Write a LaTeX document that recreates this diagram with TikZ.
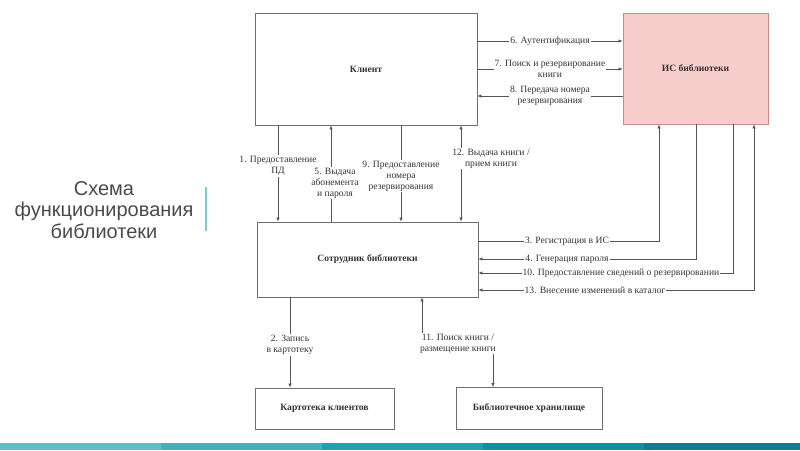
\documentclass[tikz,border=0pt]{standalone}
\usepackage{fontspec}
\setmainfont{Liberation Serif}
\newfontfamily\headfont{Liberation Sans}
\usetikzlibrary{arrows.meta}
\definecolor{isfill}{HTML}{F8CECC}
\definecolor{isdraw}{HTML}{C98A88}
\definecolor{boxgray}{HTML}{6E6E6E}
\definecolor{linegray}{HTML}{555555}
\definecolor{textgray}{HTML}{333333}
\definecolor{headgray}{HTML}{4A4A4A}
\definecolor{barteal}{HTML}{7CCBD0}
\definecolor{stripa}{HTML}{5CC0C2}
\definecolor{stripb}{HTML}{45AFBA}
\definecolor{stripc}{HTML}{249EB4}
\definecolor{stripd}{HTML}{128DAA}
\definecolor{stripe}{HTML}{14789C}
\tikzset{
  box/.style={shape=rectangle,draw=boxgray,line width=0.8pt,text=textgray,
    font=\fontsize{9.6}{11}\selectfont\bfseries},
  lbl/.style={fill=white,inner sep=1pt,align=center,text=textgray,
    font=\fontsize{9.6}{11}\selectfont},
  link/.style={draw=linegray,line width=0.7pt},
  tip/.style={link,-{Latex[length=4pt,width=3.5pt]}},
  twotip/.style={link,{Latex[length=4pt,width=3.5pt]}-{Latex[length=4pt,width=3.5pt]}}
}
\begin{document}
\begin{tikzpicture}[x=1pt,y=-1pt]
\useasboundingbox (0,0) rectangle (800,450);

\node[headgray,align=center,font=\headfont\fontsize{20}{21.5}\selectfont](head) at (104,210) {Схема\\функционирования\\библиотеки};
\draw[barteal,line width=2.5pt] (206,187) -- (206,231);

\node[box,minimum width=222pt,minimum height=112pt](client) at (366,69) {Клиент};
\node[box,draw=isdraw,fill=isfill,minimum width=145pt,minimum height=111pt](ibs) at (695.5,68.5) {ИС библиотеки};
\node[box,minimum width=221pt,minimum height=75pt](staff) at (367.5,259.5) {Сотрудник библиотеки};
\node[box,minimum width=139pt,minimum height=41pt](cards) at (324.5,408.5) {Картотека клиентов};
\node[box,minimum width=146pt,minimum height=42pt](store) at (529,408.5) {Библиотечное хранилище};

% client - IS
\draw[tip] (client.east |- 0,41) -- (ibs.west |- 0,41);
\draw[tip] (client.east |- 0,69) -- (ibs.west |- 0,69);
\draw[tip] (ibs.west |- 0,96) -- (client.east |- 0,96);
\node[lbl](l6) at (550,41) {6. Аутентификация};
\node[lbl](l7) at (550,69) {7. Поиск и резервирование\\книги};
\node[lbl](l8) at (550,95.5) {8. Передача номера\\резервирования};

% client - staff
\draw[tip] (client.south -| 278,0) -- (staff.north -| 278,0);
\draw[tip] (staff.north -| 331,0) -- (client.south -| 331,0);
\draw[tip] (client.south -| 401,0) -- (staff.north -| 401,0);
\draw[twotip] (client.south -| 461,0) -- (staff.north -| 461,0);
\node[lbl](l12) at (491,158.5) {12. Выдача книги /\\прием книги};
\node[lbl](l1) at (278,166) {1. Предоставление\\ПД};
\node[lbl](l5) at (335,183) {5. Выдача\\абонемента\\и пароля};
\node[lbl](l9) at (401,176) {9. Предоставление\\номера\\резервирования};

% staff - IS
\draw[tip] (staff.east |- 0,241) -| (ibs.south -| 659,0);
\draw[tip] (ibs.south -| 696,0) |- (staff.east |- 0,259);
\draw[tip] (ibs.south -| 733,0) |- (staff.east |- 0,273);
\draw[twotip] (ibs.south -| 754,0) |- (staff.east |- 0,290);
\node[lbl](l3) at (567,241) {3. Регистрация в ИС};
\node[lbl](l4) at (567,259) {4. Генерация пароля};
\node[lbl](l10) at (621,273) {10. Предоставление сведений о резервировании};
\node[lbl](l13) at (595,290) {13. Внесение изменений в каталог};

% staff - cards, store
\draw[tip] (staff.south -| 290,0) -- (cards.north -| 290,0);
\draw[twotip] (staff.south -| 422,0) -- (422,344) -| (store.north -| 493,0);
\node[lbl](l2) at (290,345) {2. Запись\\в картотеку};
\node[lbl](l11) at (458,343.5) {11. Поиск книги /\\размещение книги};

% strip
\fill[stripa] (0,443) rectangle (161,450);
\fill[stripb] (161,443) rectangle (322,450);
\fill[stripc] (322,443) rectangle (483,450);
\fill[stripd] (483,443) rectangle (644,450);
\fill[stripe] (644,443) rectangle (800,450);
\end{tikzpicture}
\end{document}
